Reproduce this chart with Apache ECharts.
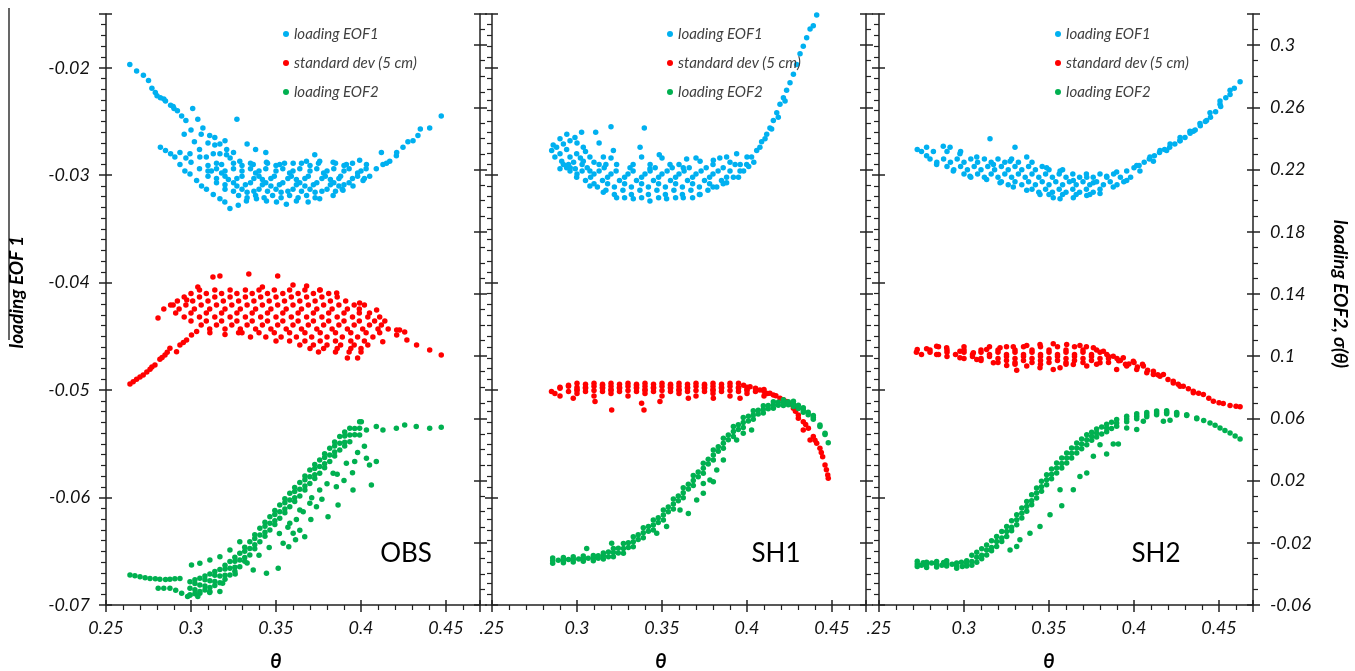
<!DOCTYPE html>
<html>
<head>
<meta charset="utf-8">
<title>EOF loadings vs θ</title>
<script src="https://cdn.jsdelivr.net/npm/echarts@6/dist/echarts.min.js"></script>
<style>
  html, body { margin: 0; padding: 0; background: #fff; }
  #chart { width: 1355px; height: 671px; }
</style>
</head>
<body>
<div id="chart"></div>
<script>
// ---- series names, panel names, tick labels ----
const seriesNames = ['loading EOF1', 'standard dev (5 cm)', 'loading EOF2'];
const panelNames = ['OBS', 'SH1', 'SH2'];
const firstXLabel = ['0.25', '.25', '.25'];
const axisTitleLeft = 'loading EOF 1';
const axisTitleRight = 'loading EOF2, σ(θ)';
const axisTitleX = 'θ';

// ---- OBS ----
const obsEof1 = [
  [0.264,-0.0197],[0.268,-0.0203],[0.272,-0.0207],[0.275,-0.0212],[0.277,-0.0219],[0.279,-0.0223],[0.280,-0.0226],[0.282,-0.0228],
  [0.284,-0.0229],[0.285,-0.0231],[0.288,-0.0235],[0.2895,-0.0236],[0.290,-0.0238],[0.292,-0.0240],[0.2945,-0.0245],[0.297,-0.0249],
  [0.301,-0.0238],[0.304,-0.0248],[0.307,-0.0256],[0.311,-0.0263],[0.314,-0.0265],[0.317,-0.0271],[0.321,-0.0276],[0.325,-0.0279],
  [0.327,-0.0248],[0.333,-0.0271],[0.338,-0.0276],[0.344,-0.0279],
  [0.302,-0.0269],[0.305,-0.0276],[0.309,-0.0283],[0.314,-0.0272],[0.317,-0.0280],
  [0.282,-0.0274],[0.285,-0.0277],[0.288,-0.0280],[0.2905,-0.0283],[0.2935,-0.0290],[0.2964,-0.0296],[0.2994,-0.0299],[0.3033,-0.0305],
  [0.3062,-0.0310],[0.3091,-0.0313],[0.3131,-0.0318],[0.3170,-0.0322],[0.3199,-0.0325],[0.3229,-0.0331],[0.3278,-0.0328],[0.3326,-0.0324],
  [0.3385,-0.0322],[0.3444,-0.0324],[0.3503,-0.0325],[0.3561,-0.0327],[0.3620,-0.0324],[0.3689,-0.0325],[0.3757,-0.0322],[0.3836,-0.0319],
  [0.3894,-0.0314],[0.3953,-0.0310],[0.4012,-0.0305],[0.4051,-0.0301],[0.4090,-0.0294],[0.4129,-0.0290],
  [0.2935,-0.0279],[0.2994,-0.0280],[0.3052,-0.0283],[0.3131,-0.0280],[0.3209,-0.0281],[0.3287,-0.0287],[0.3366,-0.0290],[0.3444,-0.0288],
  [0.3522,-0.0290],[0.3601,-0.0289],[0.3679,-0.0287],[0.3728,-0.0281],[0.3757,-0.0287],[0.3836,-0.0288],[0.3914,-0.0290],[0.3992,-0.0286],[0.4032,-0.0290],
  [0.310,-0.0291],[0.330,-0.0291],[0.350,-0.0291],[0.370,-0.0291],[0.390,-0.0291],
  [0.305,-0.0294],[0.315,-0.0294],[0.325,-0.0294],[0.335,-0.0294],[0.344,-0.0294],[0.354,-0.0294],[0.364,-0.0294],[0.374,-0.0294],[0.384,-0.0294],[0.393,-0.0294],[0.403,-0.0294],
  [0.318,-0.0298],[0.338,-0.0298],[0.358,-0.0298],[0.378,-0.0298],[0.398,-0.0298],
  [0.310,-0.0301],[0.320,-0.0301],[0.330,-0.0301],[0.340,-0.0301],[0.349,-0.0301],[0.359,-0.0301],[0.369,-0.0301],[0.379,-0.0301],[0.388,-0.0301],[0.398,-0.0301],
  [0.322,-0.0304],[0.342,-0.0304],[0.362,-0.0304],[0.382,-0.0304],
  [0.315,-0.0307],[0.325,-0.0307],[0.335,-0.0307],[0.344,-0.0307],[0.354,-0.0307],[0.364,-0.0307],[0.374,-0.0307],[0.384,-0.0307],[0.393,-0.0307],
  [0.327,-0.0310],[0.347,-0.0310],[0.367,-0.0310],[0.387,-0.0310],
  [0.320,-0.0313],[0.330,-0.0313],[0.340,-0.0313],[0.350,-0.0313],[0.360,-0.0313],[0.370,-0.0313],[0.380,-0.0313],[0.389,-0.0313],
  [0.333,-0.0316],[0.353,-0.0316],[0.373,-0.0316],
  [0.328,-0.0319],[0.338,-0.0319],[0.348,-0.0319],[0.358,-0.0319],[0.368,-0.0319],
  [0.315,-0.0289],[0.325,-0.0289],[0.335,-0.0289],[0.345,-0.0289],[0.355,-0.0289],[0.365,-0.0289],[0.375,-0.0289],[0.385,-0.0289],[0.395,-0.0289],
  [0.310,-0.0296],[0.320,-0.0296],[0.330,-0.0296],[0.340,-0.0296],[0.350,-0.0296],[0.360,-0.0296],[0.370,-0.0296],[0.380,-0.0296],[0.390,-0.0296],[0.400,-0.0296],
  [0.315,-0.0303],[0.327,-0.0303],[0.337,-0.0303],[0.347,-0.0303],[0.357,-0.0303],[0.367,-0.0303],[0.377,-0.0303],[0.387,-0.0303],[0.395,-0.0303],[0.402,-0.0303],
  [0.320,-0.0309],[0.332,-0.0309],[0.342,-0.0309],[0.352,-0.0309],[0.362,-0.0309],[0.372,-0.0309],[0.382,-0.0309],[0.390,-0.0309],
  [0.325,-0.0315],[0.337,-0.0315],[0.345,-0.0315],[0.357,-0.0315],[0.365,-0.0315],[0.377,-0.0315],[0.385,-0.0315],
  [0.333,-0.0321],[0.343,-0.0321],[0.353,-0.0321],[0.363,-0.0321],[0.373,-0.0321],
  [0.296,-0.0262],[0.300,-0.0258],[0.306,-0.0262],[0.310,-0.0270],[0.320,-0.0268],[0.323,-0.0284],[0.318,-0.0290],[0.312,-0.0296],[0.300,-0.0288],[0.297,-0.0284],
  [0.412,-0.0279],[0.415,-0.0289],[0.4169,-0.0287],[0.4208,-0.0282],[0.421,-0.0279],[0.4247,-0.0274],[0.4276,-0.0269],[0.4306,-0.0268],
  [0.4335,-0.0263],[0.4349,-0.0257],[0.4404,-0.0256],[0.4472,-0.0245]
];
const obsStd = [
  [0.2641,0.0821],[0.2660,0.0835],[0.2680,0.0851],[0.2700,0.0866],[0.2719,0.0879],[0.2740,0.0898],[0.2759,0.0916],[0.2770,0.0930],
  [0.2788,0.0943],[0.2817,0.0980],[0.2830,0.0992],[0.2847,0.1008],[0.2860,0.1025],[0.2876,0.1051],[0.2915,0.1029],[0.2935,0.1072],
  [0.2955,0.1088],[0.2974,0.1104],[0.3003,0.1136],[0.3033,0.1158],[0.3111,0.1150],[0.320,0.1140],[0.328,0.1150],
  [0.2806,0.1246],[0.2895,0.1329],[0.2975,0.1361],[0.304,0.1445],[0.3129,0.1509],[0.317,0.1516],[0.334,0.1529],[0.342,0.1445],
  [0.351,0.1516],[0.360,0.1458],[0.368,0.1451],[0.3757,0.1426],[0.3857,0.1406],[0.3992,0.1342],[0.4092,0.1297],[0.421,0.1168],[0.4257,0.1156],
  [0.4128,0.1093],[0.4227,0.1168],[0.427,0.1104],[0.4327,0.1072],[0.4404,0.1040],[0.4472,0.1008],[0.421,0.1136],
  [0.305,0.1426],[0.314,0.1426],[0.323,0.1426],[0.332,0.1426],[0.340,0.1426],[0.349,0.1426],[0.358,0.1426],[0.367,0.1426],[0.376,0.1426],
  [0.296,0.1380],[0.305,0.1380],[0.314,0.1380],[0.323,0.1380],[0.332,0.1380],[0.341,0.1380],[0.350,0.1380],[0.359,0.1380],[0.368,0.1380],[0.377,0.1380],[0.386,0.1380],
  [0.288,0.1329],[0.297,0.1329],[0.306,0.1329],[0.315,0.1329],[0.324,0.1329],[0.333,0.1329],[0.342,0.1329],[0.351,0.1329],[0.360,0.1329],[0.369,0.1329],[0.378,0.1329],[0.387,0.1329],[0.396,0.1329],[0.402,0.1329],
  [0.291,0.1278],[0.300,0.1278],[0.309,0.1278],[0.318,0.1278],[0.327,0.1278],[0.336,0.1278],[0.345,0.1278],[0.354,0.1278],[0.363,0.1278],[0.372,0.1278],[0.381,0.1278],[0.390,0.1278],[0.399,0.1278],[0.405,0.1278],
  [0.300,0.1226],[0.309,0.1226],[0.318,0.1226],[0.327,0.1226],[0.336,0.1226],[0.345,0.1226],[0.354,0.1226],[0.363,0.1226],[0.372,0.1226],[0.381,0.1226],[0.390,0.1226],[0.399,0.1226],[0.408,0.1226],[0.414,0.1226],
  [0.311,0.1175],[0.320,0.1175],[0.329,0.1175],[0.338,0.1175],[0.347,0.1175],[0.356,0.1175],[0.365,0.1175],[0.374,0.1175],[0.383,0.1175],[0.392,0.1175],[0.401,0.1175],[0.410,0.1175],[0.416,0.1175],
  [0.335,0.1123],[0.344,0.1123],[0.353,0.1123],[0.362,0.1123],[0.371,0.1123],[0.380,0.1123],[0.389,0.1123],[0.398,0.1123],[0.407,0.1123],
  [0.364,0.1072],[0.372,0.1072],[0.380,0.1072],[0.388,0.1072],[0.396,0.1072],[0.404,0.1072],
  [0.375,0.1027],[0.385,0.1027],[0.393,0.1027],[0.400,0.1027],
  [0.392,0.0988],[0.398,0.0988],
  [0.300,0.1403],[0.309,0.1403],[0.318,0.1403],[0.327,0.1403],[0.336,0.1403],[0.345,0.1403],[0.354,0.1403],[0.363,0.1403],[0.372,0.1403],[0.381,0.1403],
  [0.292,0.1355],[0.301,0.1355],[0.310,0.1355],[0.319,0.1355],[0.328,0.1355],[0.337,0.1355],[0.346,0.1355],[0.355,0.1355],[0.364,0.1355],[0.373,0.1355],[0.382,0.1355],[0.391,0.1355],
  [0.284,0.1304],[0.293,0.1304],[0.302,0.1304],[0.311,0.1304],[0.320,0.1304],[0.329,0.1304],[0.338,0.1304],[0.347,0.1304],[0.356,0.1304],[0.365,0.1304],[0.374,0.1304],[0.383,0.1304],[0.392,0.1304],[0.399,0.1304],
  [0.296,0.1252],[0.305,0.1252],[0.314,0.1252],[0.323,0.1252],[0.332,0.1252],[0.341,0.1252],[0.350,0.1252],[0.359,0.1252],[0.368,0.1252],[0.377,0.1252],[0.386,0.1252],[0.395,0.1252],[0.404,0.1252],[0.411,0.1252],
  [0.306,0.1200],[0.315,0.1200],[0.324,0.1200],[0.333,0.1200],[0.342,0.1200],[0.351,0.1200],[0.360,0.1200],[0.369,0.1200],[0.378,0.1200],[0.387,0.1200],[0.396,0.1200],[0.405,0.1200],[0.412,0.1200],
  [0.330,0.1150],[0.340,0.1150],[0.349,0.1150],[0.358,0.1150],[0.367,0.1150],[0.376,0.1150],[0.385,0.1150],[0.394,0.1150],[0.403,0.1150],[0.411,0.1150],
  [0.350,0.1098],[0.358,0.1098],[0.367,0.1098],[0.376,0.1098],[0.385,0.1098],[0.394,0.1098],[0.402,0.1098],
  [0.370,0.1050],[0.378,0.1050],[0.386,0.1050],[0.394,0.1050],[0.400,0.1050]
];
const obsEof2 = [
  [0.2641,-0.0407],[0.2670,-0.0412],[0.2700,-0.0418],[0.2730,-0.0424],[0.2759,-0.0429],[0.2790,-0.0432],[0.2817,-0.0435],[0.2850,-0.0436],
  [0.2876,-0.0435],[0.2905,-0.0432],[0.2935,-0.0429],
  [0.2807,-0.0493],[0.2840,-0.0493],[0.2876,-0.0493],[0.2910,-0.0505],[0.2945,-0.0525],[0.2994,-0.0536],[0.3052,-0.0525],[0.3111,-0.0514],[0.3170,-0.0514],
  [0.3003,-0.0343],[0.3052,-0.0332],[0.3111,-0.0311],[0.3170,-0.0289],[0.3229,-0.0246],[0.3287,-0.0193],
  [0.2994,-0.0536],[0.2994,-0.0493],[0.2994,-0.0450],
  [0.3052,-0.0514],[0.3052,-0.0471],[0.3052,-0.0428],
  [0.3111,-0.0487],[0.3111,-0.0444],[0.3111,-0.0401],
  [0.3170,-0.0457],[0.3170,-0.0414],[0.3170,-0.0371],
  [0.3229,-0.0407],[0.3229,-0.0364],[0.3229,-0.0321],
  [0.3287,-0.0354],[0.3287,-0.0311],[0.3287,-0.0268],
  [0.3346,-0.0279],[0.3346,-0.0236],[0.3346,-0.0193],
  [0.3405,-0.0193],[0.3405,-0.0150],[0.3405,-0.0107],
  [0.3464,-0.0118],[0.3464,-0.0075],[0.3464,-0.0032],
  [0.3522,-0.0043],[0.3522,0.0000],[0.3522,0.0043],
  [0.3581,0.0032],[0.3581,0.0075],[0.3581,0.0118],
  [0.3640,0.0101],[0.3640,0.0144],[0.3640,0.0187],
  [0.3699,0.0182],[0.3699,0.0225],[0.3699,0.0268],
  [0.3757,0.0247],[0.3757,0.0290],[0.3757,0.0333],
  [0.3816,0.0322],[0.3816,0.0365],[0.3816,0.0408],
  [0.3875,0.0397],[0.3875,0.0440],[0.3875,0.0483],
  [0.3934,0.0450],[0.3934,0.0493],[0.3934,0.0536],
  [0.3992,0.0493],[0.3992,0.0536],[0.3992,0.0579],
  [0.3023,-0.0502],[0.3023,-0.0462],[0.3082,-0.0478],[0.3082,-0.0438],[0.3140,-0.0449],[0.3140,-0.0409],
  [0.3200,-0.0409],[0.3200,-0.0369],[0.3258,-0.0358],[0.3258,-0.0318],[0.3316,-0.0294],[0.3316,-0.0254],
  [0.3375,-0.0213],[0.3375,-0.0173],[0.3435,-0.0133],[0.3435,-0.0093],[0.3493,-0.0058],[0.3493,-0.0018],
  [0.3552,0.0018],[0.3552,0.0058],[0.3610,0.0090],[0.3610,0.0130],[0.3670,0.0165],[0.3670,0.0205],
  [0.3728,0.0238],[0.3728,0.0278],[0.3786,0.0308],[0.3786,0.0348],[0.3845,0.0383],[0.3845,0.0423],
  [0.3904,0.0447],[0.3904,0.0487],[0.3963,0.0495],[0.3963,0.0535],
  [0.3023,-0.0527],[0.3023,-0.0437],[0.3082,-0.0503],[0.3082,-0.0413],[0.3140,-0.0474],[0.3140,-0.0384],
  [0.3200,-0.0434],[0.3200,-0.0344],[0.3258,-0.0383],[0.3258,-0.0293],[0.3316,-0.0319],[0.3316,-0.0229],
  [0.3375,-0.0238],[0.3375,-0.0148],[0.3435,-0.0158],[0.3435,-0.0068],[0.3493,-0.0083],[0.3493,0.0007],
  [0.3552,-0.0007],[0.3552,0.0083],[0.3610,0.0065],[0.3610,0.0155],[0.3670,0.0140],[0.3670,0.0230],
  [0.3728,0.0213],[0.3728,0.0303],[0.3786,0.0283],[0.3786,0.0373],[0.3845,0.0358],[0.3845,0.0448],
  [0.3904,0.0422],[0.3904,0.0512],
  [0.3366,-0.0375],[0.3444,-0.0396],[0.3513,-0.0364],[0.3542,-0.0203],[0.3601,-0.0139],[0.3669,-0.0161],[0.3738,0.0032],
  [0.3806,-0.0032],[0.3865,0.0043],[0.3855,0.0161],[0.3953,0.0140],[0.4061,0.0172],[0.3963,0.0322],[0.4032,0.0343],
  [0.4090,0.0322],[0.3640,0.0011],[0.3699,0.0054],[0.3581,-0.0075],[0.3757,0.0140],[0.3836,0.0247],[0.3914,0.0311],
  [0.357,-0.0100],[0.362,-0.0050],[0.366,0.0000],[0.371,0.0090],[0.377,0.0080],[0.380,0.0180],[0.386,0.0240],[0.390,0.0200],
  [0.395,0.0250],[0.398,0.0380],[0.402,0.0420],[0.405,0.0300],[0.3705,-0.0050],[0.3615,-0.0180],[0.352,-0.0140],[0.346,-0.0230],
  [0.340,-0.0280],[0.333,-0.0330],[0.326,-0.0400],[0.3186,-0.0460],[0.311,-0.0520],[0.304,-0.0545],[0.298,-0.0545],[0.3575,-0.0225],[0.364,-0.0120],
  [0.4002,0.0579],[0.4032,0.0525],[0.4090,0.0547],[0.4129,0.0525],[0.4208,0.0536],[0.4257,0.0558],[0.4325,0.0547],[0.4404,0.0536],[0.4472,0.0543]
];

// ---- SH1 ----
const sh1Eof1 = [
  [0.3920,-0.0302],[0.3959,-0.0296],[0.3998,-0.0290],[0.4027,-0.0283],[0.4057,-0.0277],[0.4086,-0.0269],[0.4116,-0.0262],[0.4135,-0.0256],
  [0.4155,-0.0249],[0.4175,-0.0242],[0.4194,-0.0234],[0.4214,-0.0228],[0.4233,-0.0221],[0.4253,-0.0214],[0.4273,-0.0206],[0.4292,-0.0197],
  [0.4312,-0.0187],[0.4331,-0.0180],[0.4351,-0.0172],[0.4371,-0.0164],[0.4390,-0.0161],[0.4410,-0.0151],
  [0.4076,-0.0274],[0.4106,-0.0266],[0.4145,-0.0257],[0.4184,-0.0246],[0.4224,-0.0231],
  [0.2900,-0.0294],[0.2939,-0.0293],[0.2998,-0.0302],[0.3076,-0.0310],[0.3155,-0.0316],[0.3233,-0.0321],[0.3331,-0.0322],[0.3429,-0.0324],
  [0.3527,-0.0322],[0.3625,-0.0321],[0.3724,-0.0318],[0.3822,-0.0311],[0.3880,-0.0307],
  [0.2851,-0.0277],[0.2880,-0.0274],[0.2920,-0.0271],[0.2959,-0.0268],[0.2988,-0.0265],[0.3027,-0.0260],[0.3110,-0.0260],[0.3200,-0.0255],
  [0.3396,-0.0256],[0.3371,-0.0274],[0.2900,-0.0280],[0.2959,-0.0283],[0.2998,-0.0280],[0.3037,-0.0287],[0.3076,-0.0283],[0.3155,-0.0283],
  [0.3214,-0.0277],[0.3233,-0.0290],[0.3312,-0.0293],[0.3380,-0.0283],[0.3429,-0.0294],[0.3484,-0.0281],[0.3547,-0.0290],[0.3625,-0.0293],
  [0.3645,-0.0285],[0.3724,-0.0287],[0.3802,-0.0286],[0.3880,-0.0283],[0.3939,-0.0280],[0.2939,-0.0276],[0.3037,-0.0274],[0.3076,-0.0296],[0.2959,-0.0296],
  [0.300,-0.0299],[0.310,-0.0299],[0.320,-0.0299],[0.330,-0.0299],[0.340,-0.0299],[0.350,-0.0299],[0.360,-0.0299],[0.370,-0.0299],[0.380,-0.0299],
  [0.305,-0.0305],[0.315,-0.0305],[0.325,-0.0305],[0.335,-0.0305],[0.345,-0.0305],[0.355,-0.0305],[0.365,-0.0305],[0.375,-0.0305],[0.385,-0.0305],
  [0.312,-0.0311],[0.322,-0.0311],[0.332,-0.0311],[0.342,-0.0311],[0.352,-0.0311],[0.362,-0.0311],[0.372,-0.0311],[0.380,-0.0311],
  [0.322,-0.0318],[0.332,-0.0318],[0.342,-0.0318],[0.352,-0.0318],[0.362,-0.0318],[0.372,-0.0318],
  [0.296,-0.0293],[0.306,-0.0293],[0.316,-0.0293],[0.346,-0.0293],[0.356,-0.0293],[0.366,-0.0293],[0.376,-0.0293],[0.386,-0.0293],
  [0.298,-0.0288],[0.310,-0.0288],[0.390,-0.0288],
  [0.303,-0.0296],[0.313,-0.0296],[0.323,-0.0296],[0.333,-0.0296],[0.343,-0.0296],[0.353,-0.0296],[0.363,-0.0296],[0.373,-0.0296],[0.383,-0.0296],
  [0.308,-0.0302],[0.318,-0.0302],[0.328,-0.0302],[0.338,-0.0302],[0.348,-0.0302],[0.358,-0.0302],[0.368,-0.0302],[0.378,-0.0302],[0.388,-0.0302],
  [0.310,-0.0308],[0.318,-0.0308],[0.328,-0.0308],[0.338,-0.0308],[0.348,-0.0308],[0.358,-0.0308],[0.368,-0.0308],[0.378,-0.0308],[0.386,-0.0308],
  [0.317,-0.0314],[0.327,-0.0314],[0.337,-0.0314],[0.347,-0.0314],[0.357,-0.0314],[0.367,-0.0314],[0.377,-0.0314],
  [0.328,-0.0321],[0.338,-0.0321],[0.348,-0.0321],[0.358,-0.0321],[0.368,-0.0321],
  [0.302,-0.0284],[0.320,-0.0284],[0.350,-0.0284],[0.370,-0.0284],[0.384,-0.0284],
  [0.292,-0.0290],[0.303,-0.0290],[0.313,-0.0290],[0.333,-0.0290],[0.343,-0.0290],[0.360,-0.0290],[0.380,-0.0290],[0.393,-0.0290],
  [0.2870,-0.0283],[0.2910,-0.0287],[0.2950,-0.0290],[0.2990,-0.0294],[0.2860,-0.0272],[0.2900,-0.0266],[0.2940,-0.0262],[0.3000,-0.0270],
  [0.3050,-0.0278],[0.3130,-0.0270],[0.3170,-0.0290],
  [0.3980,-0.0296],[0.4010,-0.0292],[0.4040,-0.0288],[0.3950,-0.0302],[0.3900,-0.0296],[0.3960,-0.0290],[0.4000,-0.0283]
];
const sh1Std = [
  [0.300,0.0826],[0.310,0.0826],[0.320,0.0826],[0.330,0.0826],[0.340,0.0826],[0.350,0.0826],[0.360,0.0826],[0.370,0.0826],[0.380,0.0826],[0.390,0.0826],[0.395,0.0826],
  [0.290,0.0800],[0.300,0.0800],[0.305,0.0800],[0.315,0.0800],[0.325,0.0800],[0.335,0.0800],[0.345,0.0800],[0.355,0.0800],[0.365,0.0800],[0.375,0.0800],[0.385,0.0800],[0.395,0.0800],[0.400,0.0800],
  [0.285,0.0772],[0.295,0.0772],[0.305,0.0772],[0.315,0.0772],[0.325,0.0772],[0.335,0.0772],[0.345,0.0772],[0.355,0.0772],[0.365,0.0772],[0.375,0.0772],[0.385,0.0772],[0.395,0.0772],[0.405,0.0772],
  [0.290,0.0744],[0.310,0.0744],[0.330,0.0744],[0.350,0.0744],[0.370,0.0744],[0.390,0.0744],[0.410,0.0744],
  [0.295,0.0813],[0.315,0.0813],[0.335,0.0813],[0.355,0.0813],[0.375,0.0813],[0.398,0.0813],
  [0.300,0.0786],[0.320,0.0786],[0.340,0.0786],[0.360,0.0786],[0.380,0.0786],[0.400,0.0786],[0.410,0.0786],
  [0.305,0.0820],[0.315,0.0820],[0.325,0.0820],[0.335,0.0820],[0.345,0.0820],[0.355,0.0820],[0.365,0.0820],[0.375,0.0820],[0.385,0.0820],
  [0.295,0.0806],[0.310,0.0806],[0.320,0.0806],[0.330,0.0806],[0.340,0.0806],[0.350,0.0806],[0.360,0.0806],[0.370,0.0806],[0.380,0.0806],[0.390,0.0806],
  [0.290,0.0793],[0.305,0.0793],[0.315,0.0793],[0.325,0.0793],[0.335,0.0793],[0.345,0.0793],[0.355,0.0793],[0.365,0.0793],[0.375,0.0793],[0.385,0.0793],[0.395,0.0793],[0.405,0.0793],
  [0.300,0.0779],[0.310,0.0779],[0.320,0.0779],[0.330,0.0779],[0.340,0.0779],[0.350,0.0779],[0.360,0.0779],[0.370,0.0779],[0.380,0.0779],[0.390,0.0779],[0.400,0.0779],
  [0.287,0.0760],[0.300,0.0760],[0.320,0.0760],[0.340,0.0760],[0.360,0.0760],[0.380,0.0760],[0.400,0.0760],[0.412,0.0760],
  [0.3204,0.0654],[0.3394,0.0654],[0.3106,0.0708],[0.3380,0.0697],[0.3488,0.0708],[0.3655,0.0729],[0.3802,0.0729],[0.2978,0.0729],[0.3959,0.0729],
  [0.4018,0.0804],[0.4076,0.0783],[0.4135,0.0761],[0.4155,0.0750],[0.4194,0.0729],[0.4214,0.0720],[0.4233,0.0708],[0.4273,0.0665],[0.4302,0.0622],
  [0.4302,0.0600],[0.4331,0.0579],[0.4331,0.0525],[0.4361,0.0536],[0.4371,0.0461],[0.4390,0.0483],[0.4410,0.0440],[0.4429,0.0408],
  [0.4445,0.0354],[0.4459,0.0300],[0.4475,0.0236],[0.4478,0.0215],
  [0.4050,0.0790],[0.4100,0.0772],[0.4170,0.0745],[0.4250,0.0690],[0.4285,0.0645],[0.4345,0.0560],[0.4400,0.0460],[0.4437,0.0380],[0.4467,0.0270]
];
const sh1Eof2 = [
  [0.2857,-0.0332],[0.2857,-0.0315],[0.2857,-0.0298],[0.2920,-0.0328],[0.2920,-0.0311],[0.2920,-0.0294],
  [0.2978,-0.0323],[0.2978,-0.0306],[0.2978,-0.0289],[0.3037,-0.0319],[0.3037,-0.0302],[0.3037,-0.0285],
  [0.3096,-0.0315],[0.3096,-0.0298],[0.3096,-0.0281],[0.3155,-0.0305],[0.3155,-0.0285],[0.3155,-0.0265],
  [0.3214,-0.0290],[0.3214,-0.0263],[0.3214,-0.0236],[0.3273,-0.0268],[0.3273,-0.0236],[0.3273,-0.0204],
  [0.3331,-0.0225],[0.3331,-0.0193],[0.3331,-0.0161],[0.3390,-0.0167],[0.3390,-0.0135],[0.3390,-0.0103],
  [0.3449,-0.0118],[0.3449,-0.0086],[0.3449,-0.0054],[0.3508,-0.0053],[0.3508,-0.0021],[0.3508,0.0011],
  [0.3567,0.0018],[0.3567,0.0050],[0.3567,0.0082],[0.3625,0.0090],[0.3625,0.0122],[0.3625,0.0154],
  [0.3684,0.0168],[0.3684,0.0200],[0.3684,0.0232],[0.3743,0.0247],[0.3743,0.0279],[0.3743,0.0311],
  [0.3802,0.0333],[0.3802,0.0365],[0.3802,0.0397],[0.3861,0.0408],[0.3861,0.0440],[0.3861,0.0472],
  [0.3920,0.0483],[0.3920,0.0515],[0.3920,0.0547],[0.3978,0.0541],[0.3978,0.0573],[0.3978,0.0605],
  [0.4037,0.0595],[0.4037,0.0622],[0.4037,0.0649],[0.4096,0.0635],[0.4096,0.0658],[0.4096,0.0681],
  [0.4155,0.0665],[0.4155,0.0686],[0.4155,0.0707],[0.4214,0.0682],[0.4214,0.0701],[0.4214,0.0720],
  [0.4273,0.0676],[0.4273,0.0693],[0.4273,0.0710],[0.4331,0.0640],[0.4331,0.0654],[0.4331,0.0668],
  [0.4390,0.0595],[0.4390,0.0607],[0.4390,0.0619],[0.4429,0.0548],[0.4429,0.0558],[0.4459,0.0496],[0.4459,0.0504],[0.4478,0.0444],
  [0.2890,-0.0313],[0.2950,-0.0308],[0.3010,-0.0304],[0.3066,-0.0300],[0.3125,-0.0300],[0.3125,-0.0284],
  [0.3185,-0.0289],[0.3185,-0.0259],[0.3243,-0.0265],[0.3243,-0.0235],[0.3302,-0.0230],[0.3302,-0.0200],
  [0.3360,-0.0179],[0.3360,-0.0149],[0.3420,-0.0125],[0.3420,-0.0095],[0.3478,-0.0069],[0.3478,-0.0039],
  [0.3537,0.0000],[0.3537,0.0030],[0.3596,0.0071],[0.3596,0.0101],[0.3655,0.0146],[0.3655,0.0176],
  [0.3713,0.0225],[0.3713,0.0255],[0.3772,0.0307],[0.3772,0.0337],[0.3831,0.0388],[0.3831,0.0418],
  [0.3890,0.0463],[0.3890,0.0493],[0.3949,0.0529],[0.3949,0.0559],[0.4008,0.0583],[0.4008,0.0613],
  [0.4066,0.0628],[0.4066,0.0652],[0.4125,0.0662],[0.4125,0.0682],[0.4184,0.0684],[0.4184,0.0704],
  [0.4243,0.0687],[0.4243,0.0707],[0.4302,0.0664],[0.4302,0.0684],[0.4360,0.0623],[0.4360,0.0639],
  [0.3655,-0.0011],[0.3743,0.0118],[0.3782,0.0204],[0.3822,0.0268],[0.3704,0.0075],[0.3606,0.0011],[0.3527,-0.0096],
  [0.3469,-0.0139],[0.3861,0.0333],[0.3939,0.0461],[0.3978,0.0504],[0.4027,0.0525],[0.3802,0.0193],[0.3743,0.0182],
  [0.3204,-0.0203],[0.3057,-0.0236]
];

// ---- SH2 ----
const sh2Eof1 = [
  [0.2725,-0.0276],[0.2780,-0.0274],[0.2878,-0.0273],[0.2918,-0.0274],[0.2976,-0.0280],[0.3075,-0.0283],[0.3153,-0.0266],[0.3173,-0.0290],
  [0.3271,-0.0287],[0.3300,-0.0274],[0.3369,-0.0283],[0.3486,-0.0293],[0.3565,-0.0296],[0.3643,-0.0305],[0.3722,-0.0302],[0.3761,-0.0307],
  [0.3839,-0.0301],[0.3898,-0.0297],[0.3957,-0.0296],[0.4016,-0.0291],[0.4094,-0.0283],[0.4153,-0.0277],[0.4212,-0.0271],[0.4271,-0.0265],
  [0.4329,-0.0259],[0.4388,-0.0252],[0.4447,-0.0242],[0.4506,-0.0231],[0.4565,-0.0221],[0.4624,-0.0213],
  [0.2780,-0.0282],[0.2839,-0.0290],[0.2937,-0.0296],[0.3035,-0.0301],[0.3133,-0.0304],[0.3212,-0.0307],[0.3290,-0.0311],[0.3369,-0.0314],
  [0.3447,-0.0318],[0.3525,-0.0321],[0.3565,-0.0322],[0.3643,-0.0321],[0.3722,-0.0319],[0.3800,-0.0317],[0.3878,-0.0311],[0.3957,-0.0305],
  [0.4035,-0.0296],[0.4114,-0.0287],[0.4192,-0.0277],[0.4271,-0.0268],[0.4349,-0.0259],[0.4427,-0.0249],[0.4506,-0.0234],[0.4565,-0.0225],
  [0.280,-0.0285],[0.288,-0.0285],[0.296,-0.0285],[0.304,-0.0285],[0.312,-0.0285],[0.320,-0.0285],[0.328,-0.0285],
  [0.290,-0.0292],[0.298,-0.0292],[0.306,-0.0292],[0.314,-0.0292],[0.322,-0.0292],[0.330,-0.0292],[0.338,-0.0292],[0.346,-0.0292],
  [0.300,-0.0299],[0.308,-0.0299],[0.316,-0.0299],[0.324,-0.0299],[0.332,-0.0299],[0.340,-0.0299],[0.348,-0.0299],[0.356,-0.0299],[0.364,-0.0299],[0.372,-0.0299],[0.380,-0.0299],[0.388,-0.0299],
  [0.322,-0.0306],[0.330,-0.0306],[0.338,-0.0306],[0.346,-0.0306],[0.354,-0.0306],[0.362,-0.0306],[0.370,-0.0306],[0.378,-0.0306],[0.386,-0.0306],[0.394,-0.0306],
  [0.340,-0.0313],[0.348,-0.0313],[0.356,-0.0313],[0.364,-0.0313],[0.372,-0.0313],[0.380,-0.0313],
  [0.350,-0.0318],[0.358,-0.0318],[0.366,-0.0318],[0.374,-0.0318],
  [0.406,-0.0288],[0.412,-0.0282],[0.418,-0.0276],[0.424,-0.0271],[0.430,-0.0265],[0.436,-0.0258],[0.442,-0.0250],[0.448,-0.0241],
  [0.275,-0.0278],[0.282,-0.0278],[0.290,-0.0278],[0.298,-0.0278],
  [0.284,-0.0288],[0.292,-0.0288],[0.300,-0.0288],[0.308,-0.0288],[0.316,-0.0288],[0.324,-0.0288],[0.332,-0.0288],[0.340,-0.0288],
  [0.294,-0.0295],[0.302,-0.0295],[0.310,-0.0295],[0.318,-0.0295],[0.326,-0.0295],[0.334,-0.0295],[0.342,-0.0295],[0.350,-0.0295],[0.358,-0.0295],
  [0.304,-0.0302],[0.312,-0.0302],[0.320,-0.0302],[0.328,-0.0302],[0.336,-0.0302],[0.344,-0.0302],[0.352,-0.0302],[0.360,-0.0302],[0.368,-0.0302],[0.376,-0.0302],[0.384,-0.0302],[0.392,-0.0302],[0.398,-0.0302],
  [0.326,-0.0309],[0.334,-0.0309],[0.342,-0.0309],[0.350,-0.0309],[0.358,-0.0309],[0.366,-0.0309],[0.374,-0.0309],[0.382,-0.0309],[0.390,-0.0309],
  [0.344,-0.0316],[0.352,-0.0316],[0.360,-0.0316],[0.368,-0.0316],[0.376,-0.0316],
  [0.400,-0.0293],[0.403,-0.0291],[0.409,-0.0285],[0.415,-0.0279],[0.421,-0.0274],[0.427,-0.0268],[0.433,-0.0261],[0.439,-0.0254],
  [0.445,-0.0246],[0.451,-0.0236],[0.454,-0.0228],[0.459,-0.0219]
];
const sh2Std = [
  [0.2725,0.1043],[0.2780,0.1047],[0.2839,0.1064],[0.2898,0.1054],[0.2976,0.1032],[0.3055,0.1022],[0.3133,0.1043],[0.3212,0.1054],
  [0.3290,0.1060],[0.3369,0.1069],[0.3447,0.1075],[0.3525,0.1080],[0.3604,0.1075],[0.3682,0.1069],[0.3761,0.1054],[0.3820,0.1032],
  [0.3878,0.1000],[0.3937,0.0989],[0.3996,0.0968],[0.4055,0.0936],[0.4114,0.0903],[0.4173,0.0882],[0.4231,0.0839],[0.4290,0.0807],
  [0.4349,0.0775],[0.4408,0.0753],[0.4467,0.0710],[0.4525,0.0695],[0.4565,0.0682],[0.4624,0.0674],
  [0.2839,0.1011],[0.2976,0.0989],[0.3075,0.0979],[0.3173,0.0957],[0.3251,0.0940],[0.3310,0.0910],[0.3369,0.0936],[0.3447,0.0925],
  [0.3525,0.0914],[0.3565,0.0925],[0.3643,0.0946],[0.3722,0.0936],[0.3800,0.0957],[0.3898,0.0914],[0.3957,0.0936],[0.4016,0.0914],
  [0.4075,0.0893],[0.4153,0.0871],[0.4231,0.0828],[0.4271,0.0807],[0.4114,0.0882],[0.4349,0.0764],
  [0.280,0.1040],[0.290,0.1040],[0.300,0.1040],[0.310,0.1040],[0.320,0.1040],[0.330,0.1040],[0.340,0.1040],[0.350,0.1040],[0.360,0.1040],[0.370,0.1040],[0.378,0.1040],
  [0.275,0.1010],[0.285,0.1010],[0.295,0.1010],[0.305,0.1010],[0.315,0.1010],[0.325,0.1010],[0.335,0.1010],[0.345,0.1010],[0.355,0.1010],[0.365,0.1010],[0.375,0.1010],[0.384,0.1010],
  [0.300,0.0985],[0.310,0.0985],[0.320,0.0985],[0.330,0.0985],[0.340,0.0985],[0.350,0.0985],[0.360,0.0985],[0.370,0.0985],[0.380,0.0985],[0.390,0.0985],
  [0.320,0.0960],[0.330,0.0960],[0.340,0.0960],[0.350,0.0960],[0.360,0.0960],[0.370,0.0960],[0.385,0.0960],[0.400,0.0960],
  [0.285,0.1060],[0.300,0.1060],[0.315,0.1060],[0.325,0.1060],[0.335,0.1060],[0.345,0.1060],[0.355,0.1060],[0.365,0.1060],[0.372,0.1060],
  [0.272,0.1025],[0.280,0.1025],[0.290,0.1025],[0.300,0.1025],[0.310,0.1025],[0.320,0.1025],[0.330,0.1025],[0.340,0.1025],[0.350,0.1025],[0.360,0.1025],[0.370,0.1025],[0.380,0.1025],
  [0.290,0.0997],[0.305,0.0997],[0.315,0.0997],[0.325,0.0997],[0.335,0.0997],[0.345,0.0997],[0.355,0.0997],[0.365,0.0997],[0.375,0.0997],[0.385,0.0997],
  [0.310,0.0972],[0.325,0.0972],[0.335,0.0972],[0.345,0.0972],[0.355,0.0972],[0.365,0.0972],[0.375,0.0972],[0.392,0.0972],
  [0.330,0.0948],[0.345,0.0948],[0.360,0.0948],[0.378,0.0948],[0.395,0.0948],[0.405,0.0948],
  [0.3850,0.0985],[0.3910,0.0970],[0.3970,0.0950],[0.4020,0.0930],[0.4080,0.0910],[0.4140,0.0880],[0.4200,0.0850],[0.4260,0.0820],
  [0.4320,0.0790],[0.4380,0.0762],[0.4440,0.0730],[0.4500,0.0700],[0.4600,0.0678]
];
const sh2Eof2 = [
  [0.2725,-0.0353],[0.2725,-0.0336],[0.2725,-0.0319],[0.2780,-0.0359],[0.2780,-0.0342],[0.2780,-0.0325],
  [0.2839,-0.0355],[0.2839,-0.0338],[0.2839,-0.0321],[0.2898,-0.0349],[0.2898,-0.0332],[0.2898,-0.0315],
  [0.2957,-0.0364],[0.2957,-0.0347],[0.2957,-0.0330],[0.3016,-0.0349],[0.3016,-0.0332],[0.3016,-0.0315],
  [0.3075,-0.0325],[0.3075,-0.0293],[0.3075,-0.0261],[0.3133,-0.0278],[0.3133,-0.0246],[0.3133,-0.0214],
  [0.3192,-0.0224],[0.3192,-0.0192],[0.3192,-0.0160],[0.3251,-0.0159],[0.3251,-0.0127],[0.3251,-0.0095],
  [0.3310,-0.0084],[0.3310,-0.0052],[0.3310,-0.0020],[0.3369,0.0002],[0.3369,0.0034],[0.3369,0.0066],
  [0.3427,0.0088],[0.3427,0.0120],[0.3427,0.0152],[0.3486,0.0173],[0.3486,0.0205],[0.3486,0.0237],
  [0.3545,0.0249],[0.3545,0.0281],[0.3545,0.0313],[0.3604,0.0313],[0.3604,0.0345],[0.3604,0.0377],
  [0.3663,0.0377],[0.3663,0.0409],[0.3663,0.0441],[0.3722,0.0431],[0.3722,0.0463],[0.3722,0.0495],
  [0.3780,0.0480],[0.3780,0.0506],[0.3780,0.0532],[0.3839,0.0514],[0.3839,0.0538],[0.3839,0.0562],
  [0.3898,0.0550],[0.3898,0.0571],[0.3898,0.0592],[0.3957,0.0578],[0.3957,0.0596],[0.3957,0.0614],
  [0.4016,0.0597],[0.4016,0.0613],[0.4016,0.0629],[0.4075,0.0610],[0.4075,0.0624],[0.4075,0.0638],
  [0.4133,0.0623],[0.4133,0.0635],[0.4133,0.0647],[0.4192,0.0629],[0.4192,0.0639],[0.4192,0.0649],
  [0.4251,0.0622],[0.4251,0.0630],[0.4251,0.0638],[0.4310,0.0618],[0.4310,0.0624],[0.4369,0.0597],[0.4369,0.0603],
  [0.4447,0.0571],[0.4506,0.0538],[0.4565,0.0506],[0.4624,0.0467],[0.4410,0.0587],[0.4477,0.0555],[0.4535,0.0522],[0.4595,0.0487],
  [0.3046,-0.0320],[0.3104,-0.0280],[0.3162,-0.0230],[0.3222,-0.0170],[0.3280,-0.0100],[0.3340,-0.0010],
  [0.3398,0.0070],[0.3456,0.0160],[0.3515,0.0240],[0.3575,0.0310],[0.3633,0.0375],[0.3692,0.0435],[0.3751,0.0485],
  [0.3046,-0.0345],[0.3046,-0.0280],[0.3104,-0.0302],[0.3104,-0.0238],[0.3162,-0.0251],[0.3162,-0.0187],
  [0.3222,-0.0192],[0.3222,-0.0128],[0.3280,-0.0122],[0.3280,-0.0058],[0.3340,-0.0041],[0.3340,0.0023],
  [0.3398,0.0045],[0.3398,0.0109],[0.3456,0.0131],[0.3456,0.0195],[0.3515,0.0211],[0.3515,0.0275],
  [0.3575,0.0281],[0.3575,0.0345],[0.3633,0.0345],[0.3633,0.0409],[0.3692,0.0404],[0.3692,0.0468],
  [0.3751,0.0459],[0.3751,0.0511],[0.3810,0.0500],[0.3810,0.0544],[0.3868,0.0535],[0.3868,0.0575],
  [0.2750,-0.0345],[0.2810,-0.0330],[0.2870,-0.0345],[0.2930,-0.0338],[0.2990,-0.0352],[0.2760,-0.0328],[0.2880,-0.0326],[0.2985,-0.0325],
  [0.3271,-0.0246],[0.3329,-0.0181],[0.3388,-0.0138],[0.3447,-0.0095],[0.3506,-0.0020],[0.3575,0.0038],[0.3565,0.0141],
  [0.3643,0.0141],[0.3682,0.0227],[0.3722,0.0248],[0.3761,0.0356],[0.3839,0.0371],[0.3800,0.0431],[0.3878,0.0435],
  [0.3908,0.0435],[0.3957,0.0538],[0.4016,0.0528],[0.4055,0.0581],[0.4173,0.0581],[0.4212,0.0588],[0.3310,-0.0224]
];

// ---- data grouped per panel (blue on the EOF1 axis, red/green on the EOF2, σ axis) ----
const panelData = [
  [obsEof1, obsStd, obsEof2],
  [sh1Eof1, sh1Std, sh1Eof2],
  [sh2Eof1, sh2Std, sh2Eof2]
];
const colors = ['#00B0F0', '#FF0000', '#00B050'];

// ---- layout ----
const gridLefts = [106, 492, 879];
const gridWidth = 374;
const gridTop = 14;
const gridHeight = 591;
const FONT = 'Lato, "Open Sans", sans-serif';
const AX = '#222';

const grids = [], xAxes = [], yAxes = [], series = [], legends = [];

gridLefts.forEach((left, g) => {
  grids.push({ left: left, top: gridTop, width: gridWidth, height: gridHeight, containLabel: false });

  // x axis: outward ticks + labels
  xAxes.push({
    gridIndex: g, type: 'value', position: 'bottom', min: 0.25, max: 0.47, interval: 0.05,
    axisLine: { show: true, onZero: false, lineStyle: { color: AX, width: 1.5 } },
    axisTick: { show: true, inside: false, length: 7, lineStyle: { color: AX, width: 1.5 } },
    minorTick: { show: true, splitNumber: 5, length: 5, lineStyle: { color: AX, width: 1.2 } },
    splitLine: { show: false },
    axisLabel: {
      margin: 14, fontSize: 18, fontStyle: 'italic', fontFamily: FONT, color: '#111',
      showMaxLabel: false,
      formatter: v => (Math.abs(v - 0.25) < 1e-9 ? firstXLabel[g] : String(+v.toFixed(2)))
    }
  });
  // x axis: inner half of the major ticks
  xAxes.push({
    gridIndex: g, type: 'value', position: 'bottom', min: 0.25, max: 0.47, interval: 0.05,
    axisLine: { show: false, onZero: false },
    axisTick: { show: true, inside: true, length: 5, lineStyle: { color: AX, width: 1.5 } },
    axisLabel: { show: false }, splitLine: { show: false }
  });

  // left axis: loading EOF1
  yAxes.push({
    gridIndex: g, type: 'value', position: 'left', min: -0.07, max: -0.015, interval: 0.01,
    axisLine: { show: true, onZero: false, lineStyle: { color: AX, width: 1.5 } },
    axisTick: { show: true, inside: false, length: 7, lineStyle: { color: AX, width: 1.5 } },
    minorTick: { show: true, splitNumber: 10, length: 5, lineStyle: { color: AX, width: 1.2 } },
    splitLine: { show: false },
    axisLabel: {
      show: g === 0, margin: 16, fontSize: 18, fontStyle: 'italic', fontFamily: FONT, color: '#111',
      showMaxLabel: false
    }
  });
  yAxes.push({
    gridIndex: g, type: 'value', position: 'left', min: -0.07, max: -0.015, interval: 0.01,
    axisLine: { show: false, onZero: false },
    axisTick: { show: true, inside: true, length: 6, lineStyle: { color: AX, width: 1.5 } },
    axisLabel: { show: false }, splitLine: { show: false }
  });

  // right axis: loading EOF2 and σ(θ)
  yAxes.push({
    gridIndex: g, type: 'value', position: 'right', min: -0.06, max: 0.32, interval: 0.04,
    axisLine: { show: true, onZero: false, lineStyle: { color: AX, width: 1.5 } },
    axisTick: { show: true, inside: false, length: 7, lineStyle: { color: AX, width: 1.5 } },
    minorTick: { show: true, splitNumber: 4, length: 5, lineStyle: { color: AX, width: 1.2 } },
    splitLine: { show: false },
    axisLabel: {
      show: g === 2, margin: 17, fontSize: 18, fontStyle: 'italic', fontFamily: FONT, color: '#111',
      showMaxLabel: false,
      formatter: v => String(+v.toFixed(2))
    }
  });
  yAxes.push({
    gridIndex: g, type: 'value', position: 'right', min: -0.06, max: 0.32, interval: 0.04,
    axisLine: { show: false, onZero: false },
    axisTick: { show: true, inside: true, length: 6, lineStyle: { color: AX, width: 1.5 } },
    axisLabel: { show: false }, splitLine: { show: false }
  });

  panelData[g].forEach((data, s) => {
    series.push({
      type: 'scatter', name: seriesNames[s], data: data,
      xAxisIndex: 2 * g, yAxisIndex: 4 * g + (s === 0 ? 0 : 2),
      symbol: 'circle', symbolSize: 5.5,
      itemStyle: { color: colors[s], opacity: 1 },
      silent: true, animation: false
    });
  });

  legends.push({
    orient: 'vertical', left: [278, 662, 1050][g], top: 21,
    icon: 'circle', itemWidth: 6, itemHeight: 6, itemGap: 13,
    selectedMode: false,
    textStyle: { fontSize: 15, fontStyle: 'italic', fontFamily: FONT, color: '#404040', lineHeight: 16 },
    data: seriesNames
  });
});

const thetaX = [276, 661, 1049];
const panelLabelX = [406, 776, 1156];

const graphic = [
  { type: 'line', shape: { x1: 9, y1: 8, x2: 9, y2: 340 }, style: { stroke: '#000', lineWidth: 1.2 } },
  { type: 'text', x: 17, y: 292, rotation: Math.PI / 2,
    style: { text: axisTitleLeft, font: 'italic bold 19px ' + FONT, fill: '#000', align: 'center', verticalAlign: 'middle' } },
  { type: 'text', x: 1340, y: 294, rotation: -Math.PI / 2,
    style: { text: axisTitleRight, font: 'italic bold 19px ' + FONT, fill: '#000', align: 'center', verticalAlign: 'middle' } }
];
thetaX.forEach(x => graphic.push({ type: 'text', x: x, y: 662,
  style: { text: axisTitleX, font: 'italic bold 20px ' + FONT, fill: '#000', align: 'center', verticalAlign: 'middle' } }));
panelLabelX.forEach((x, g) => graphic.push({ type: 'text', x: x, y: 554,
  style: { text: panelNames[g], font: '26px ' + FONT, fill: '#000', align: 'center', verticalAlign: 'middle' } }));

const chart = echarts.init(document.getElementById('chart'), null, { renderer: 'canvas' });
chart.setOption({
  animation: false,
  backgroundColor: '#ffffff',
  grid: grids,
  xAxis: xAxes,
  yAxis: yAxes,
  legend: legends,
  series: series,
  graphic: graphic
});
</script>
</body>
</html>
